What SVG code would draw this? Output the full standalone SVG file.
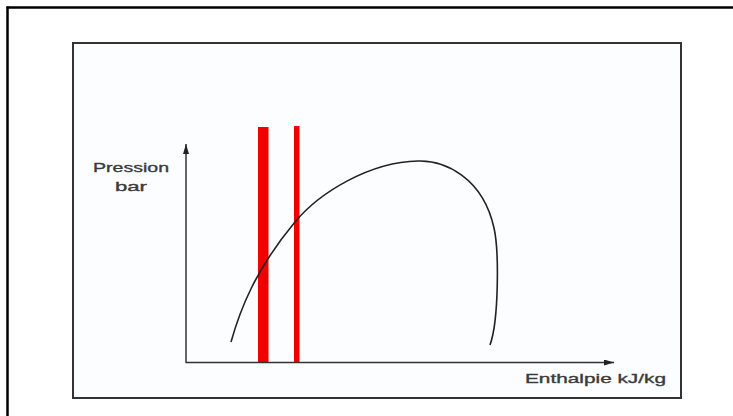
<svg xmlns="http://www.w3.org/2000/svg" width="733" height="416" viewBox="0 0 733 416">
<style>
.lbl{font-family:"Liberation Sans",Arial,sans-serif;font-size:13.5px;fill:#3a3a3a;stroke:#3a3a3a;stroke-width:0.35;}
.ax{stroke:#333;stroke-width:1.5;fill:none;}
.red{fill:#f20000;}
</style>
<defs>
<marker id="ah" viewBox="0 0 10 6" refX="10" refY="3" markerWidth="10" markerHeight="6" markerUnits="userSpaceOnUse" orient="auto">
<path d="M0,0 L10,3 L0,6 Z" fill="#222"/>
</marker>
</defs>
<rect width="733" height="416" fill="#fff"/>
<g id="outer-frame">
<line x1="6.5" y1="7.5" x2="733" y2="7.5" stroke="#000" stroke-width="2.5"/>
<line x1="7.5" y1="6.5" x2="7.5" y2="416" stroke="#000" stroke-width="2.5"/>
</g>
<g id="inner-frame">
<rect x="73" y="43" width="608" height="355" fill="#fbfdfe" stroke="#333" stroke-width="2"/>
</g>
<g id="red-lines">
<rect class="red" x="258" y="127" width="10.5" height="236"/>
<rect class="red" x="294" y="126" width="5.5" height="237"/>
</g>
<g id="connectors">
<line id="y-axis" class="ax" x1="186" y1="362.5" x2="186" y2="144" marker-end="url(#ah)"/>
<line id="x-axis" class="ax" x1="185.5" y1="362.5" x2="614" y2="362.5" marker-end="url(#ah)"/>
</g>
<g id="curve">
<path d="M231,342 C240,310 255,270 295,222 C320,192 370,162 418,161 C445,160 483,178 494,228 C499,250 499,320 490,345" fill="none" stroke="#222" stroke-width="1.6"/>
</g>
<g id="label-pression">
<text class="lbl" x="93" y="172" textLength="76" lengthAdjust="spacingAndGlyphs">Pression</text>
<text class="lbl" x="115" y="191" textLength="32" lengthAdjust="spacingAndGlyphs">bar</text>
</g>
<g id="label-enthalpie">
<text class="lbl" x="525" y="383" textLength="141" lengthAdjust="spacingAndGlyphs">Enthalpie kJ/kg</text>
</g>
</svg>
